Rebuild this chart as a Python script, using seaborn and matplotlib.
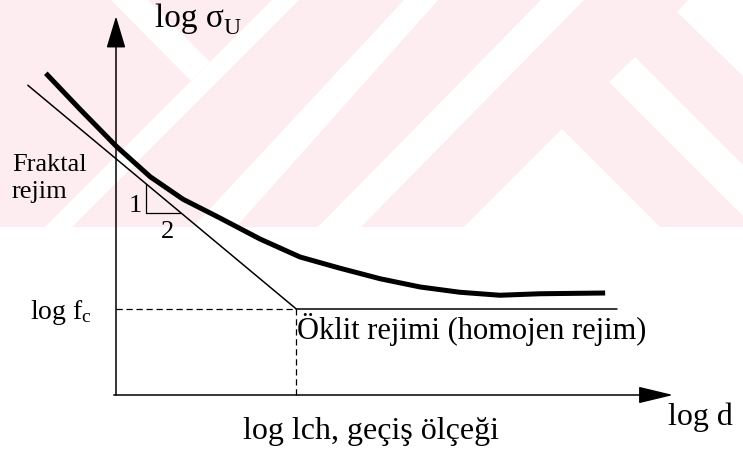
import matplotlib
matplotlib.use("Agg")
import matplotlib.pyplot as plt
from matplotlib.patches import Polygon
from matplotlib.transforms import Affine2D
import numpy as np
import pandas as pd
import seaborn as sns

# ---- diagram data (log d on x, log sigma_U on y) ----
curve_log_d = [-1.56, -0.80, 0.00, 0.76, 1.49, 2.31, 3.20, 4.09, 4.98,
               5.87, 6.76, 7.64, 8.53, 9.42, 10.87]
curve_log_sigma = [4.29, 3.81, 3.32, 2.91, 2.61, 2.36, 2.08, 1.84, 1.69,
                   1.55, 1.44, 1.37, 1.33, 1.35, 1.36]

log_lch = 4.0          # transition scale
log_fc = 1.15          # strength at the Euclidean limit
fractal_slope = -0.5   # slope of the fractal asymptote
fractal_start = -1.96  # left end of the asymptote
euclid_end = 11.13     # right end of the Euclidean plateau
x_axis_end = 12.38
y_axis_end = 5.05
tri_x0, tri_run = 0.67, 0.78   # slope triangle

W, H = 743, 452
sns.set_theme(style="white")
plt.rcParams["font.family"] = ["Liberation Serif", "DejaVu Serif"]
plt.rcParams["mathtext.fontset"] = "custom"
plt.rcParams["mathtext.rm"] = "Liberation Serif"
plt.rcParams["mathtext.it"] = "Liberation Serif:italic"

fig = plt.figure(figsize=(W / 100, H / 100), dpi=100)
fig.patch.set_facecolor("white")
ax = fig.add_axes([0, 0, 1, 1])
ax.set_xlim(-116 / 45, (W - 116) / 45)
ax.set_ylim(-(H - 396) / 75, 396 / 75)
ax.axis("off")

# pixel-space transform (origin top-left) for background and labels
px = Affine2D().scale(1 / W, -1 / H).translate(0, 1) + fig.transFigure

# faint background watermark bands
pink = "#fdedf0"
ax.add_patch(Polygon([(0, 0), (W, 0), (W, 228), (0, 228)],
                     closed=True, transform=px, facecolor=pink,
                     edgecolor="none", zorder=0))
white_shapes = [
    [(273, 0), (300, 0), (72, 228), (45, 228)],
    [(110, 0), (147, 0), (210, 63), (191, 82)],
    [(405, 0), (439, 0), (236, 228), (193, 228)],
    [(542, 0), (585, 0), (361, 228), (318, 228)],
    [(562, 130), (660, 228), (464, 228)],
    [(609, 83), (635, 58), (743, 166), (743, 217)],
    [(677, 13), (689, 0), (743, 0), (743, 77)],
]
for shp in white_shapes:
    ax.add_patch(Polygon(shp, closed=True, transform=px,
                         facecolor="white", edgecolor="none", zorder=0.5))

ink = "black"

# axes with arrow heads
ax.annotate("", xy=(x_axis_end, 0), xytext=(-0.05, 0),
            arrowprops=dict(arrowstyle="-|>,head_length=1.08,head_width=0.26",
                            mutation_scale=20, lw=1.1, color=ink,
                            shrinkA=0, shrinkB=0))
ax.annotate("", xy=(0, y_axis_end), xytext=(0, 0),
            arrowprops=dict(arrowstyle="-|>,head_length=1.0,head_width=0.3",
                            mutation_scale=20, lw=1.1, color=ink,
                            shrinkA=0, shrinkB=0))

# fractal asymptote (slope -1/2) down to the transition point
fr = pd.DataFrame({"x": [fractal_start, log_lch],
                   "y": [log_fc + fractal_slope * (fractal_start - log_lch), log_fc]})
sns.lineplot(data=fr, x="x", y="y", ax=ax, color=ink, lw=1.1, sort=False)

# Euclidean plateau
eu = pd.DataFrame({"x": [log_lch, euclid_end], "y": [log_fc, log_fc]})
sns.lineplot(data=eu, x="x", y="y", ax=ax, color=ink, lw=1.1, sort=False)

# dashed guides to log fc and log lch
ax.plot([0, log_lch], [log_fc, log_fc], color=ink, lw=0.9,
        linestyle=(0, (5, 3)))
ax.plot([log_lch, log_lch], [0, log_fc], color=ink, lw=0.9,
        linestyle=(0, (5, 3)))

# size-effect curve
cv = pd.DataFrame({"x": curve_log_d, "y": curve_log_sigma})
sns.lineplot(data=cv, x="x", y="y", ax=ax, color=ink, lw=3.6, sort=False,
             solid_capstyle="butt", solid_joinstyle="round")

# slope triangle under the asymptote
ty = log_fc + fractal_slope * (tri_x0 - log_lch)
tri_rise = -fractal_slope * tri_run
ax.plot([tri_x0, tri_x0, tri_x0 + tri_run], [ty, ty - tri_rise, ty - tri_rise],
        color=ink, lw=0.9)

ax.set_xlabel("")
ax.set_ylabel("")

# labels
def label(x, y, s, size, **kw):
    ax.text(x, y, s, transform=px, fontsize=size, color=ink,
            va="baseline", ha="left", zorder=5, **kw)

label(155, 27, "log σ", 24)
label(223, 34, "U", 17)
label(668, 425, "log d", 23)
label(12, 171, "Fraktal", 19)
label(12, 198, "rejim", 19)
label(129, 212, "1", 19)
label(161, 238, "2", 19)
label(30, 319, r"log f$_\mathrm{c}$", 20)
label(297, 339, "Öklit rejimi (homojen rejim)", 22)
label(243, 439, "log lch, geçiş ölçeği", 23)

fig.savefig("out.png", dpi=100, facecolor="white")
